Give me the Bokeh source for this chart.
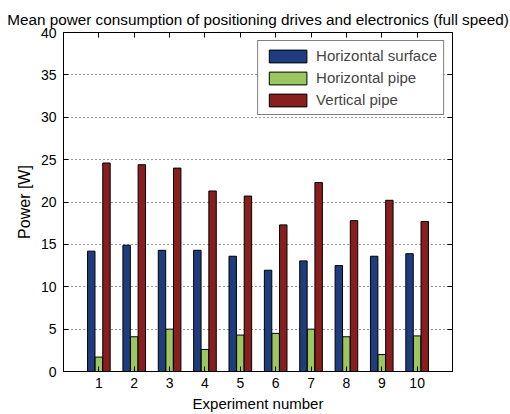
from bokeh.plotting import figure
from bokeh.models import ColumnDataSource, FixedTicker, LinearAxis, Range1d, Legend, LegendItem
from bokeh.transform import dodge
from bokeh.embed import file_html
from bokeh.resources import INLINE

experiments = [1, 2, 3, 4, 5, 6, 7, 8, 9, 10]
horizontal_surface = [14.2, 14.9, 14.3, 14.3, 13.6, 11.95, 13.05, 12.5, 13.6, 13.9]
horizontal_pipe = [1.7, 4.1, 5.0, 2.6, 4.3, 4.5, 5.0, 4.1, 2.0, 4.2]
vertical_pipe = [24.6, 24.4, 24.0, 21.3, 20.7, 17.3, 22.3, 17.8, 20.2, 17.7]
series_names = ["Horizontal surface", "Horizontal pipe", "Vertical pipe"]
colors = ["#1f3d7e", "#9cc660", "#881e1e"]
y_ticks = [0, 5, 10, 15, 20, 25, 30, 35, 40]

src = ColumnDataSource(dict(x=experiments, hs=horizontal_surface, hp=horizontal_pipe, vp=vertical_pipe))

FONT = "Liberation Sans"

p = figure(width=510, height=414, output_backend="svg", toolbar_location=None,
           x_range=Range1d(0, 11), y_range=Range1d(0, 40),
           min_border_left=63, min_border_right=58, min_border_top=32, min_border_bottom=43)

p.title.text = "Mean power consumption of positioning drives and electronics (full speed)"
p.title.align = "center"
p.title.text_font = FONT
p.title.text_font_size = "15.3px"
p.title.text_font_style = "normal"
p.title.text_color = "black"
p.title.standoff = 10

width = 0.21
offsets = [-0.215, 0.0, 0.215]
fields = ["hs", "hp", "vp"]
renderers = []
for f, off, c in zip(fields, offsets, colors):
    r = p.vbar(x=dodge("x", off, range=p.x_range), top=f, width=width, bottom=0, source=src,
               fill_color=c, line_color="black", line_width=1)
    renderers.append(r)

legend = Legend(items=[LegendItem(label=n, renderers=[r]) for n, r in zip(series_names, renderers)],
                location="top_right")
legend.margin = 8
legend.padding = 6
legend.spacing = 5
legend.glyph_width = 47
legend.glyph_height = 16
legend.label_height = 16
legend.label_standoff = 5
legend.label_text_font = FONT
legend.label_text_font_size = "15px"
legend.border_line_color = "black"
legend.border_line_width = 1
legend.background_fill_alpha = 1
p.add_layout(legend, "center")

# axes
for ax in [p.xaxis[0], p.yaxis[0]]:
    ax.major_tick_in = 5
    ax.major_tick_out = 0
    ax.minor_tick_in = 0
    ax.minor_tick_out = 0
    ax.axis_line_color = "black"
    ax.major_tick_line_color = "black"
    ax.major_label_text_font = FONT
    ax.major_label_text_font_size = "14px"
    ax.major_label_text_color = "black"
    ax.axis_label_text_font = FONT
    ax.axis_label_text_font_style = "normal"
    ax.axis_label_text_color = "black"

p.xaxis[0].axis_label_text_font_size = "15px"
p.yaxis[0].axis_label_text_font_size = "16px"
p.xaxis[0].ticker = FixedTicker(ticks=experiments)
p.yaxis[0].ticker = FixedTicker(ticks=y_ticks)
p.xaxis[0].axis_label = "Experiment number"
p.yaxis[0].axis_label = "Power [W]"
p.xaxis[0].major_label_standoff = 6
p.yaxis[0].major_label_standoff = 7
p.xaxis[0].axis_label_standoff = 4
p.yaxis[0].axis_label_standoff = 5

top_ax = LinearAxis(ticker=FixedTicker(ticks=experiments),
                    major_label_overrides={t: "" for t in experiments},
                    major_tick_in=5, major_tick_out=0, minor_tick_in=0, minor_tick_out=0,
                    axis_line_color="black", major_label_standoff=0)
right_ax = LinearAxis(ticker=FixedTicker(ticks=y_ticks),
                      major_label_overrides={t: "" for t in y_ticks},
                      major_tick_in=5, major_tick_out=0, minor_tick_in=0, minor_tick_out=0,
                      axis_line_color="black", major_label_standoff=0)
p.add_layout(top_ax, "above")
p.add_layout(right_ax, "right")

p.xgrid.grid_line_color = None
p.ygrid.grid_line_color = "black"
p.ygrid.grid_line_dash = "1 3"
p.ygrid.grid_line_alpha = 0.8
p.ygrid.ticker = FixedTicker(ticks=y_ticks)

p.outline_line_color = "black"
p.outline_line_alpha = 1
p.background_fill_color = "white"
p.border_fill_color = "white"

open("out.html", "w").write(file_html(p, INLINE))
